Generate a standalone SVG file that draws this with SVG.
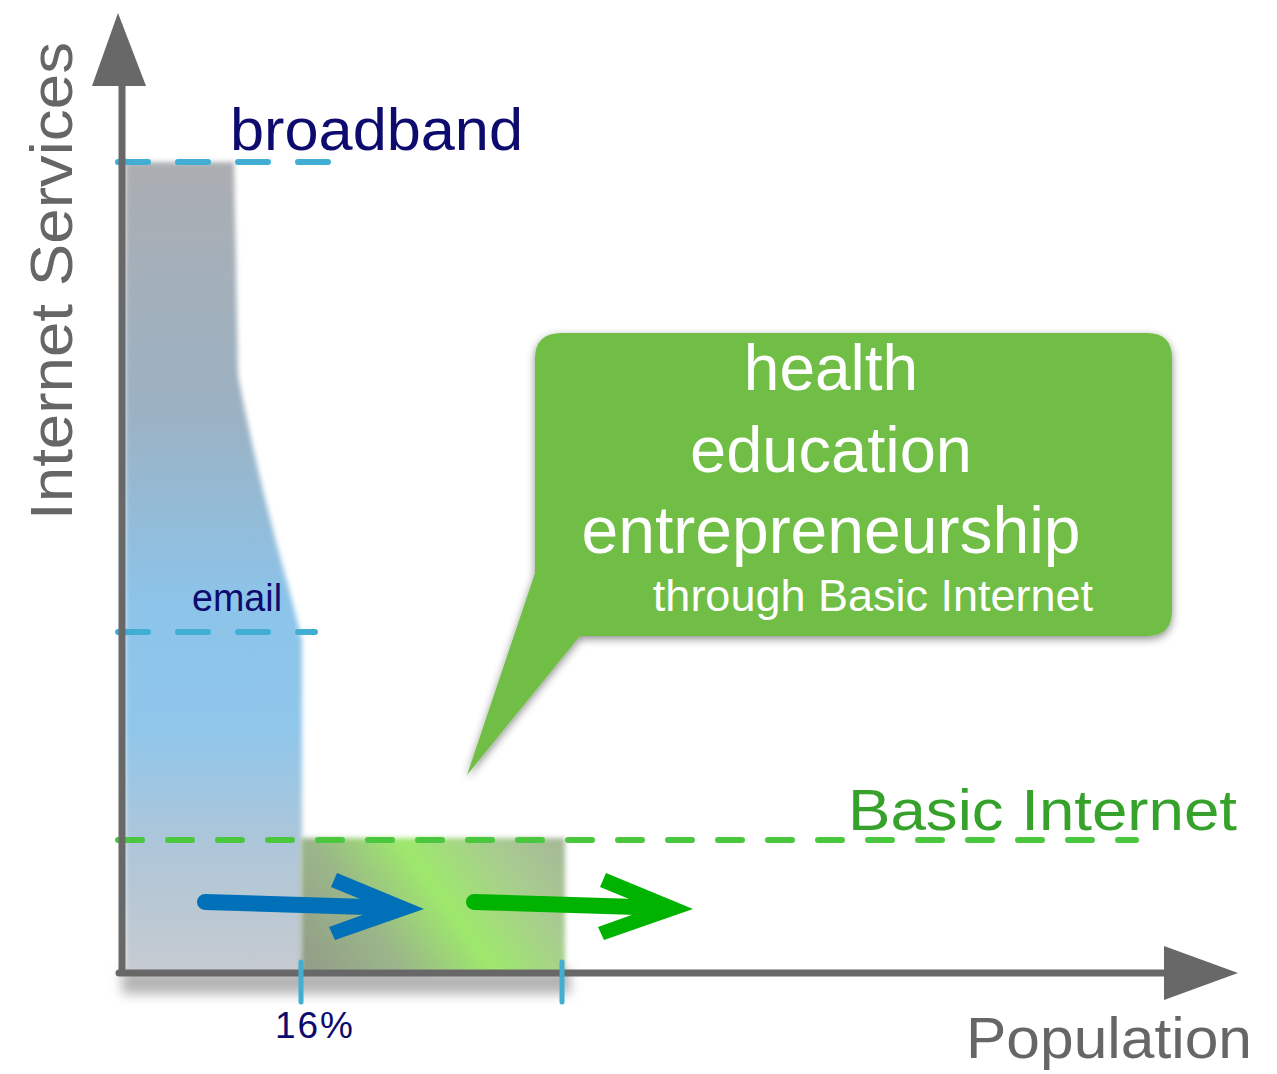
<svg xmlns="http://www.w3.org/2000/svg" width="1277" height="1074" viewBox="0 0 1277 1074">
<style>
.ax{stroke:#686868;stroke-width:7;fill:none}
.axh{fill:#686868}
.bdash{stroke:#42aed3;stroke-width:6;stroke-linecap:round;stroke-dasharray:30 30;fill:none}
.gdash{stroke:#4ac63f;stroke-width:6;stroke-linecap:round;stroke-dasharray:24 26;fill:none}
.tick{stroke:#42aed3;stroke-width:5;stroke-linecap:round}
.navy{fill:#0e0b6e;font-family:"Liberation Sans",Arial,sans-serif}
.gray{fill:#666666;font-family:"Liberation Sans",Arial,sans-serif}
.white{fill:#ffffff;font-family:"Liberation Sans",Arial,sans-serif;text-anchor:middle}
</style>
<defs>
<linearGradient id="blueg" x1="0" y1="162" x2="0" y2="973" gradientUnits="userSpaceOnUse">
<stop offset="0" stop-color="#abaeb2"/>
<stop offset="0.3" stop-color="#9cb1c2"/>
<stop offset="0.55" stop-color="#8cc4ea"/>
<stop offset="0.7" stop-color="#90c6ea"/>
<stop offset="0.85" stop-color="#afc6d8"/>
<stop offset="1" stop-color="#c6cbd0"/>
</linearGradient>
<linearGradient id="greeng" x1="330" y1="990" x2="565" y2="822" gradientUnits="userSpaceOnUse">
<stop offset="0" stop-color="#939f88"/>
<stop offset="0.25" stop-color="#9bb689"/>
<stop offset="0.5" stop-color="#9ee86c"/>
<stop offset="0.75" stop-color="#a8cc90"/>
<stop offset="1" stop-color="#a6b498"/>
</linearGradient>
<filter id="soft" x="-10%" y="-10%" width="120%" height="120%"><feGaussianBlur stdDeviation="2.5"/></filter>
<filter id="shblur" x="-20%" y="-50%" width="140%" height="200%"><feGaussianBlur stdDeviation="6"/></filter>
<filter id="bubsh" x="-10%" y="-10%" width="120%" height="125%"><feDropShadow dx="0" dy="3" stdDeviation="4" flood-color="#000" flood-opacity="0.45"/></filter>
</defs>

<g id="shadow-base">
<rect x="122" y="970" width="448" height="24" fill="#b4b4b4" filter="url(#shblur)"/>
</g>

<g id="broadband-area">
<path d="M125,162 H234 L238,375 C250,440 272,530 288,585 L302,640 V973 H125 Z" fill="url(#blueg)" filter="url(#soft)"/>
</g>

<g id="basic-area">
<rect x="301" y="838" width="264" height="135" fill="url(#greeng)" filter="url(#soft)"/>
</g>

<g id="bubble">
<path d="M562,333 H1147 Q1172,333 1172,358 V611 Q1172,636 1147,636 H580 L467,775 L535,573 V358 Q535,333 562,333 Z" fill="#70be44" filter="url(#bubsh)"/>
<text class="white" x="831" y="390" font-size="64">health</text>
<text class="white" x="831" y="472" font-size="65">education</text>
<text class="white" x="831" y="553" font-size="66">entrepreneurship</text>
<text class="white" x="873" y="611" font-size="45">through Basic Internet</text>
</g>

<g id="connectors">
<line class="bdash" x1="118" y1="162" x2="328" y2="162"/>
<line class="bdash" x1="118" y1="632" x2="315" y2="632"/>
<line class="gdash" x1="118" y1="840" x2="1136" y2="840"/>
<line class="ax" x1="122" y1="84" x2="122" y2="976"/>
<polygon class="axh" points="118,13 92,86 146,86"/>
<line class="ax" x1="119" y1="973" x2="1166" y2="973" stroke-linecap="round"/>
<polygon class="axh" points="1164,946 1238,973 1164,1000"/>
<line class="tick" x1="301" y1="962" x2="301" y2="1002"/>
<line class="tick" x1="562" y1="962" x2="562" y2="1002"/>
<g id="blue-arrow" fill="#0070b8">
<line x1="205" y1="902" x2="400" y2="908" stroke="#0070b8" stroke-width="16" stroke-linecap="round"/>
<polygon points="337,873 424,909 335,940 329,927 382,908 331,887"/>
</g>
<g id="green-arrow" fill="#00b300">
<line x1="474" y1="902" x2="669" y2="908" stroke="#00b300" stroke-width="16" stroke-linecap="round"/>
<polygon points="606,873 693,909 604,940 598,927 651,908 600,887"/>
</g>
</g>

<g id="labels">
<text class="navy" x="230" y="150" font-size="60" textLength="293" lengthAdjust="spacingAndGlyphs">broadband</text>
<text class="navy" x="192" y="611" font-size="38" textLength="90" lengthAdjust="spacingAndGlyphs">email</text>
<text class="navy" x="275" y="1038" font-size="37" textLength="78" lengthAdjust="spacing">16%</text>
<text x="848" y="830" font-size="58" fill="#36a22c" font-family="'Liberation Sans',Arial,sans-serif" textLength="389" lengthAdjust="spacingAndGlyphs">Basic  Internet</text>
<text class="gray" x="966" y="1058" font-size="57" textLength="286" lengthAdjust="spacingAndGlyphs">Population</text>
<text class="gray" transform="translate(72,520) rotate(-90)" x="0" y="0" font-size="60" textLength="478" lengthAdjust="spacingAndGlyphs">Internet  Services</text>
</g>
</svg>
